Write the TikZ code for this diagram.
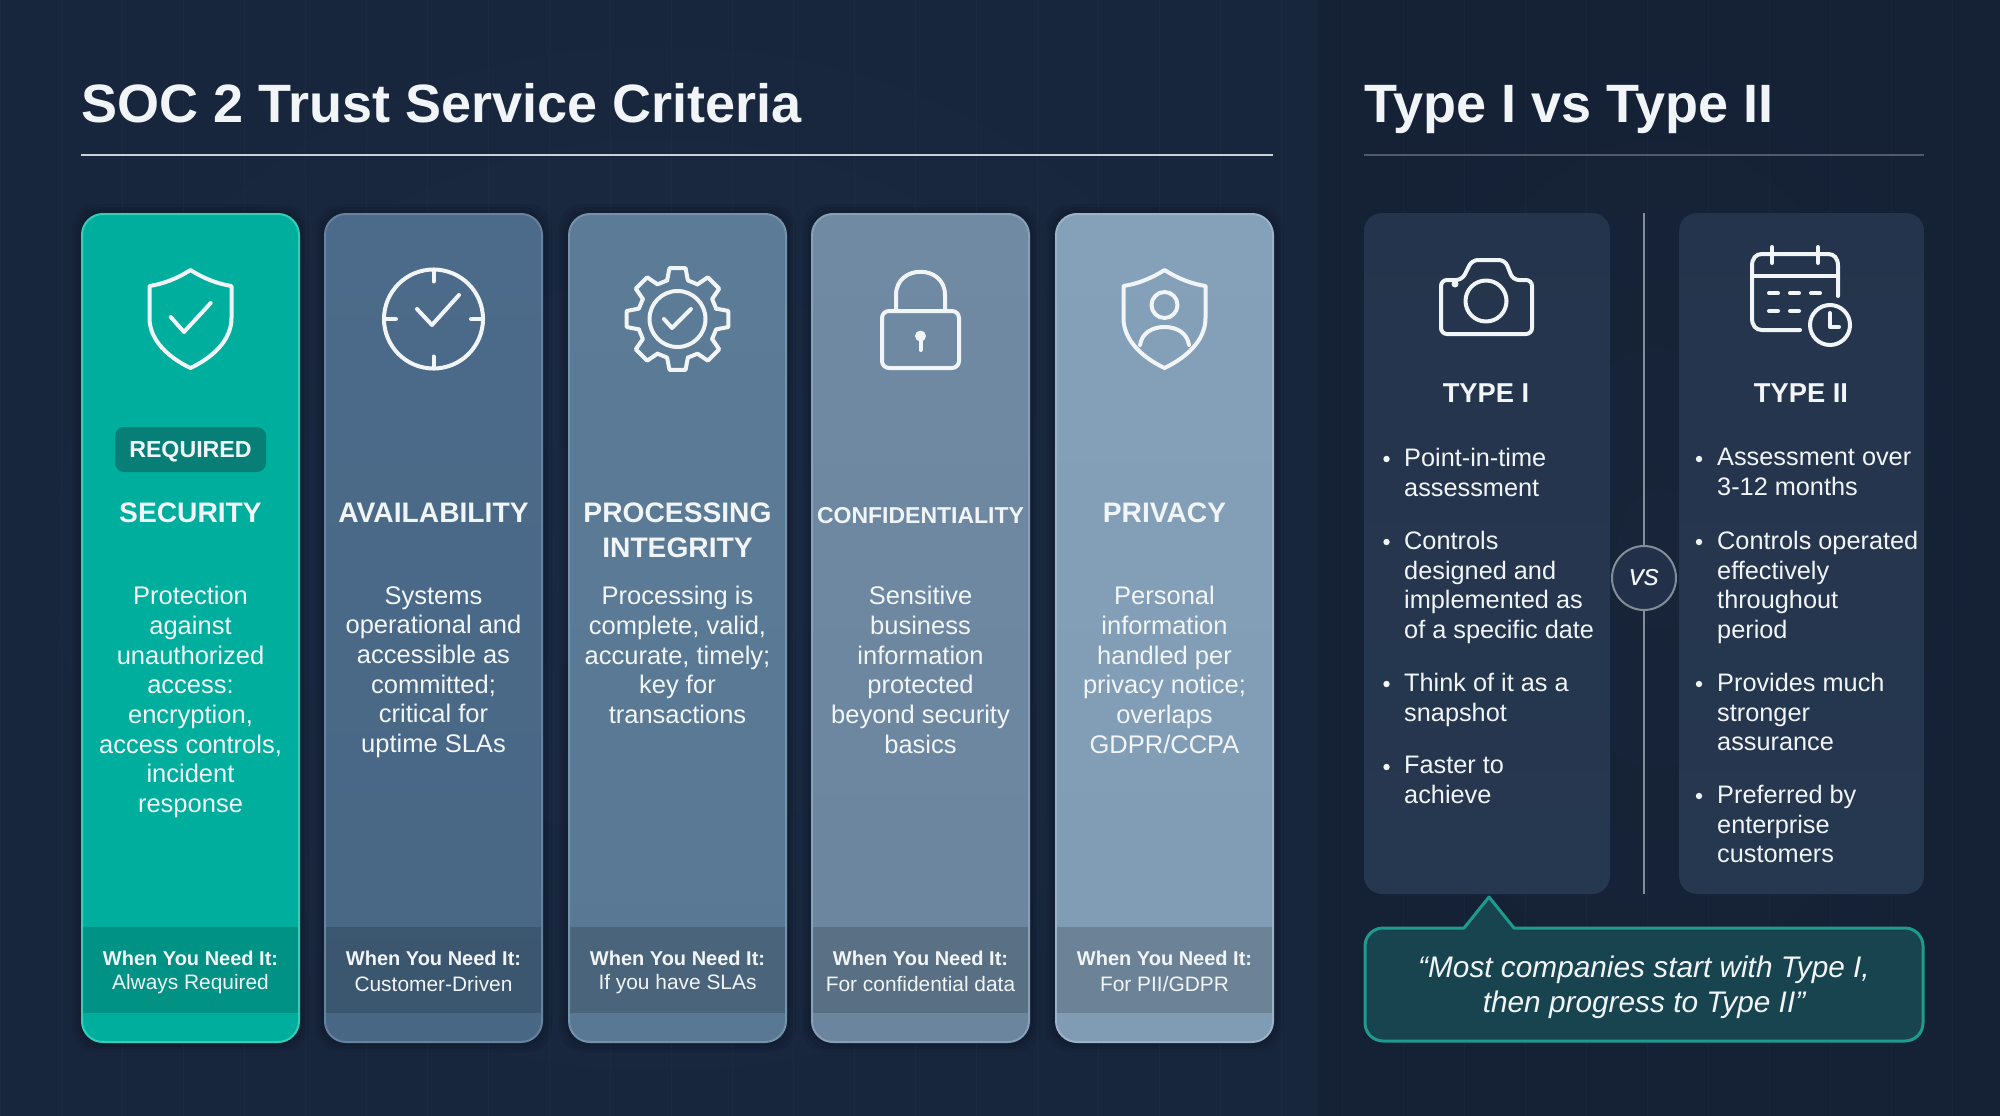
\documentclass[tikz,border=0pt]{standalone}
\usepackage{fontspec}
\setmainfont{Liberation Sans}
\definecolor{bgleft}{HTML}{1B2A43}
\definecolor{bgleftrim}{HTML}{18263D}
\definecolor{bgright}{HTML}{172439}
\definecolor{bgrightrim}{HTML}{152135}
\definecolor{inktext}{HTML}{F1F5F8}
\definecolor{tealfill}{HTML}{00AE9E}
\definecolor{tealedge}{HTML}{35CFB9}
\definecolor{tealdark}{HTML}{077F76}
\definecolor{avatop}{HTML}{4C6B8A}
\definecolor{avabot}{HTML}{476785}
\definecolor{avaedge}{HTML}{66829E}
\definecolor{protop}{HTML}{5C7B97}
\definecolor{probot}{HTML}{597893}
\definecolor{proedge}{HTML}{7692AB}
\definecolor{contop}{HTML}{708AA3}
\definecolor{conbot}{HTML}{6B859E}
\definecolor{conedge}{HTML}{88A0B7}
\definecolor{pritop}{HTML}{85A0B9}
\definecolor{pribot}{HTML}{809BB4}
\definecolor{priedge}{HTML}{9CB2C7}
\definecolor{panelfill}{HTML}{263750}
\definecolor{callfill}{HTML}{17444F}
\definecolor{calledge}{HTML}{1F9A8E}
\tikzset{
  cardbox/.style = {rounded corners = 21pt, line width = 2pt},
  iconline/.style = {draw = inktext, line width = 4pt, line cap = round, line join = round},
  titletext/.style = {anchor = base west, inner sep = 0, text = inktext, font = \bfseries\fontsize{54}{60}\selectfont},
  cardhead/.style = {align = center, inner sep = 0, text = inktext, font = \bfseries\fontsize{28.2}{34.5}\selectfont},
  carddesc/.style = {anchor = north, align = center, inner sep = 0, text = inktext!94!white, font = \fontsize{25.5}{29.7}\selectfont},
  needhead/.style = {inner sep = 0, text = inktext, font = \bfseries\fontsize{20}{24}\selectfont},
  needtext/.style = {inner sep = 0, text = inktext, font = \fontsize{20.9}{24}\selectfont},
  listtext/.style = {anchor = north west, align = left, inner sep = 0, text = inktext, font = \fontsize{25.3}{29.7}\selectfont},
}
% one criteria column: x left, top colour, bottom colour, edge colour, icon name, head, description
\newcommand{\critcard}[7]{
  \foreach \g in {3, 6, 9}
    \fill[black, opacity = 0.06, rounded corners = 24pt] (#1 - \g, 213 - \g) rectangle (#1 + 219 + \g, 1043 + \g);
  \path[cardbox, draw = #4, top color = #2, bottom color = #3] (#1 + 1, 214) rectangle ++(217, 828);
  \fill[black, opacity = 0.16] (#1 + 2, 927) rectangle (#1 + 217, 1013);
  \node[needhead] (need#5) at (#1 + 109.5, 958) {When You Need It:};
  \node[carddesc] (desc#5) at (#1 + 109.5, 586) {#7};
  \node[cardhead, anchor = north] (head#5) at (#1 + 109.5, 503) {#6};
}
\newcommand{\shieldoutline}[1]{
  \draw[iconline, shift = {(#1, 0)}] (0, 270) .. controls (14, 279) and (28, 284) .. (41, 286) -- (41, 318) .. controls (41, 341) and (21, 358) .. (0, 368) .. controls (-21, 358) and (-41, 341) .. (-41, 318) -- (-41, 286) .. controls (-28, 284) and (-14, 279) .. (0, 270) -- cycle;
}
\begin{document}
\begin{tikzpicture}[x = 1pt, y = -1pt]
  \useasboundingbox (0, 0) rectangle (2000, 1116);
  \path[inner color = bgleft, outer color = bgleftrim] (0, 0) rectangle (1318, 1116);
  \path[inner color = bgright, outer color = bgrightrim] (1318, 0) rectangle (2000, 1116);
  \draw[step = 61, white, opacity = 0.018, line width = 1pt] (0, 0) grid (2000, 1116);

  % headings
  \node[titletext] (soctitle) at (81, 122) {SOC 2 Trust Service Criteria};
  \node[titletext] (typetitle) at (1364, 122) {Type I vs Type II};
  \fill[inktext!82!bgleft] (81, 154) rectangle (1273, 156);
  \fill[inktext!26!bgright] (1364, 154) rectangle (1924, 156);

  % criteria columns
  \critcard{81}{tealfill}{tealfill}{tealedge}{sec}{SECURITY}{Protection\\against\\unauthorized\\access:\\encryption,\\access controls,\\incident\\response}
  \critcard{324}{avatop}{avabot}{avaedge}{ava}{AVAILABILITY}{Systems\\operational and\\accessible as\\committed;\\critical for\\uptime SLAs}
  \critcard{568}{protop}{probot}{proedge}{pro}{PROCESSING\\INTEGRITY}{Processing is\\complete, valid,\\accurate, timely;\\key for\\transactions}
  \critcard{811}{contop}{conbot}{conedge}{con}{\fontsize{23}{30}\selectfont\rule{0pt}{20.5pt}CONFIDENTIALITY}{Sensitive\\business\\information\\protected\\beyond security\\basics}
  \critcard{1055}{pritop}{pribot}{priedge}{pri}{PRIVACY}{Personal\\information\\handled per\\privacy notice;\\overlaps\\GDPR/CCPA}

  \node[needtext] (whensec) at (190.5, 984) {Always Required};
  \node[needtext] (whenava) at (433.5, 984) {Customer-Driven};
  \node[needtext] (whenpro) at (677.5, 984) {If you have SLAs};
  \node[needtext] (whencon) at (920.5, 984) {For confidential data};
  \node[needtext] (whenpri) at (1164.5, 984) {For PII/GDPR};

  % required tag
  \fill[tealdark, rounded corners = 9pt] (115, 427) rectangle (266, 472);
  \node[inner sep = 0, text = inktext, font = \bfseries\fontsize{23.2}{28}\selectfont] (reqtag) at (190.5, 452) {REQUIRED};

  % criteria icons
  \shieldoutline{190.5}
  \draw[iconline] (170.7, 317) -- (184, 332) -- (210.7, 303);
  \draw[iconline] (433.5, 319) circle (49.5);
  \foreach \a in {0, 90, 180, 270}
    \draw[iconline] (433.5, 319) ++(\a:49.5) -- ++(\a:-12);
  \draw[iconline] (417, 309) -- (432, 325) -- (459, 295);
  \foreach \a in {0, 45, ..., 315}
    \draw[iconline, shift = {(677.5, 319)}] (\a - 15:40) -- (\a - 9:51.5) -- (\a + 9:51.5) -- (\a + 15:40) -- (\a + 30:40);
  \draw[iconline] (677.5, 319) circle (28);
  \draw[iconline] (664, 319) -- (672, 328) -- (691, 309);
  \draw[iconline, rounded corners = 7pt] (882, 311) rectangle (959, 368);
  \draw[iconline] (896, 311) -- (896, 295) .. controls (896, 264) and (945, 264) .. (945, 295) -- (945, 311);
  \fill[inktext] (920.5, 336) circle (5.5);
  \draw[iconline] (920.5, 336) -- (920.5, 350);
  \shieldoutline{1164.5}
  \draw[iconline] (1164.5, 305) circle (13);
  \draw[iconline] (1140, 345) .. controls (1142, 333) and (1152, 327) .. (1164.5, 327) .. controls (1177, 327) and (1187, 333) .. (1189, 345);

  % type panels
  \path[rounded corners = 18pt, top color = panelfill!95!black, bottom color = panelfill] (1364, 213) rectangle (1610, 894);
  \path[rounded corners = 18pt, top color = panelfill!95!black, bottom color = panelfill] (1679, 213) rectangle (1924, 894);
  \draw[inktext!50!bgright, line width = 2pt] (1644, 213) -- (1644, 894);
  \node[circle, minimum size = 64pt, inner sep = 0, draw = inktext!50!bgright, line width = 2pt, fill = panelfill!70!bgright, text = inktext, font = \itshape\fontsize{30}{34}\selectfont] (versus) at (1644, 578) {vs};

  % camera
  \draw[iconline, rounded corners = 6pt] (1441, 280) -- (1462, 280) -- (1472, 260) -- (1505, 260) -- (1513, 280) -- (1532, 280) -- (1532, 334) -- (1441, 334) -- cycle;
  \draw[iconline] (1486, 301) circle (20.5);
  \fill[inktext] (1455, 284) circle (3.5);

  % calendar with clock
  \draw[iconline] (1838, 296) -- (1838, 266) .. controls (1838, 258) and (1834, 254) .. (1828, 254) -- (1762, 254) .. controls (1756, 254) and (1752, 258) .. (1752, 266) -- (1752, 318) .. controls (1752, 326) and (1756, 330) .. (1762, 330) -- (1800, 330);
  \draw[iconline] (1752, 276) -- (1838, 276);
  \draw[iconline] (1772, 247) -- (1772, 263);
  \draw[iconline] (1818, 247) -- (1818, 263);
  \foreach \dx in {1769, 1790, 1811}
    \draw[iconline] (\dx, 293) -- ++(9, 0);
  \foreach \dx in {1769, 1790}
    \draw[iconline] (\dx, 311) -- ++(9, 0);
  \draw[iconline] (1830, 325) circle (20);
  \draw[iconline] (1830, 313) -- (1830, 327) -- (1839, 327);

  \node[cardhead, font = \bfseries\fontsize{27.3}{34}\selectfont] (typeone) at (1486, 393) {TYPE I};
  \node[cardhead, font = \bfseries\fontsize{27.3}{34}\selectfont] (typetwo) at (1801, 393) {TYPE II};

  % bullet lists
  \foreach \ly/\ltext [count = \n] in {448/{Point-in-time\\assessment}, 531/{Controls\\designed and\\implemented as\\of a specific date}, 673/{Think of it as a\\snapshot}, 756/{Faster to\\achieve}} {
    \fill[inktext] (1386.5, \ly + 11) circle (3.2);
    \node[listtext] (oneitem\n) at (1404, \ly) {\ltext};
  }
  \foreach \ly/\ltext [count = \n] in {448/{Assessment over\\3-12 months}, 531/{Controls operated\\effectively\\throughout\\period}, 673/{Provides much\\stronger\\assurance}, 785/{Preferred by\\enterprise\\customers}} {
    \fill[inktext] (1699, \ly + 11) circle (3.2);
    \node[listtext] (twoitem\n) at (1717, \ly) {\ltext};
  }

  % callout
  \draw[fill = callfill, draw = calledge, line width = 3pt, line join = round] (1489, 897) -- (1514, 928) [rounded corners = 18pt] -- (1923, 928) -- (1923, 1041) -- (1365, 1041) -- (1365, 928) -- (1420, 928) [sharp corners] -- (1464, 928) -- cycle;
  \node[align = center, inner sep = 0, text = inktext, font = \itshape\fontsize{29.8}{35}\selectfont] (quote) at (1644, 987.5) {``Most companies start with Type I,\\then progress to Type II''};
\end{tikzpicture}
\end{document}
